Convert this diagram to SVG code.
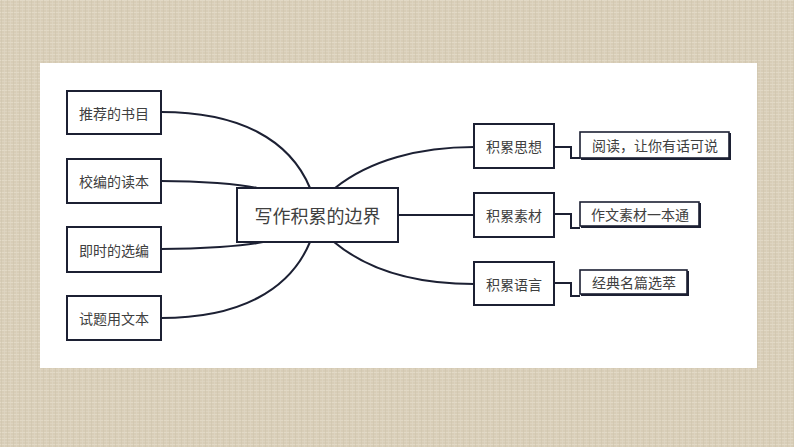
<svg xmlns="http://www.w3.org/2000/svg" width="794" height="447" viewBox="0 0 794 447">
<defs>
<pattern id="linen" width="6" height="6" patternUnits="userSpaceOnUse">
<rect width="6" height="6" fill="#d8cdb7"/>
<rect y="0" width="6" height="1" fill="#e2d9c6"/>
<rect y="3" width="6" height="1" fill="#ddd3bf"/>
<rect x="1" width="1" height="6" fill="#cfc4ad" opacity="0.6"/>
<rect x="4" width="1" height="6" fill="#e0d7c4" opacity="0.6"/>
</pattern>
<style>
.box{fill:#ffffff;stroke:#1c2033;stroke-width:2}
.sbox{fill:#ffffff;stroke:#1c2033;stroke-width:1.6}
.shadow{fill:#1c2033}
.t{font-family:"Noto Sans CJK SC","Noto Sans",sans-serif;font-size:14px;fill:#404040;text-anchor:middle;dominant-baseline:central}
.tc{font-size:18px}
.c{fill:none;stroke:#1c2033;stroke-width:2}
</style>
</defs>
<rect width="794" height="447" fill="url(#linen)"/>
<rect x="40" y="63" width="717" height="305" fill="#ffffff"/>
<g id="connectors">
<path class="c" d="M161,112 C240,112 290,140 310,188"/>
<path class="c" d="M161,181 C200,181 240,184 257,188"/>
<path class="c" d="M161,249 C200,249 245,246 263,242"/>
<path class="c" d="M161,318 C240,318 290,290 310,242"/>
<path class="c" d="M335,188 C370,160 420,147 474,147"/>
<path class="c" d="M398,215 L474,215"/>
<path class="c" d="M334,242 C370,272 420,284 474,284"/>
<path class="c" d="M554,147 H571 V158 H580"/>
<path class="c" d="M554,214 H571 V228 H580"/>
<path class="c" d="M554,283 H571 V296 H580"/>
</g>
<g id="n1"><rect class="box" x="67" y="91" width="94" height="43"/><text class="t" x="114" y="112.5">推荐的书目</text></g>
<g id="n2"><rect class="box" x="67" y="159" width="94" height="44"/><text class="t" x="114" y="181">校编的读本</text></g>
<g id="n3"><rect class="box" x="67" y="227" width="94" height="45"/><text class="t" x="114" y="249.5">即时的选编</text></g>
<g id="n4"><rect class="box" x="67" y="296" width="94" height="44"/><text class="t" x="114" y="318">试题用文本</text></g>
<g id="center"><rect class="box" x="237" y="188" width="161" height="54"/><text class="t tc" x="317.5" y="215">写作积累的边界</text></g>
<g id="r1"><rect class="box" x="474" y="124" width="80" height="44"/><text class="t" x="514" y="146">积累思想</text></g>
<g id="r2"><rect class="box" x="474" y="193" width="80" height="44"/><text class="t" x="514" y="215">积累素材</text></g>
<g id="r3"><rect class="box" x="474" y="262" width="80" height="43"/><text class="t" x="514" y="283.5">积累语言</text></g>
<g id="s1"><rect class="shadow" x="581" y="133" width="150" height="27"/><rect class="sbox" x="580" y="132" width="149" height="26"/><text class="t" x="655" y="145">阅读，让你有话可说</text></g>
<g id="s2"><rect class="shadow" x="581" y="203" width="120" height="25"/><rect class="sbox" x="580" y="202" width="119" height="24"/><text class="t" x="640" y="214">作文素材一本通</text></g>
<g id="s3"><rect class="shadow" x="581" y="271" width="108" height="25"/><rect class="sbox" x="580" y="270" width="107" height="24"/><text class="t" x="634" y="282">经典名篇选萃</text></g>
</svg>
